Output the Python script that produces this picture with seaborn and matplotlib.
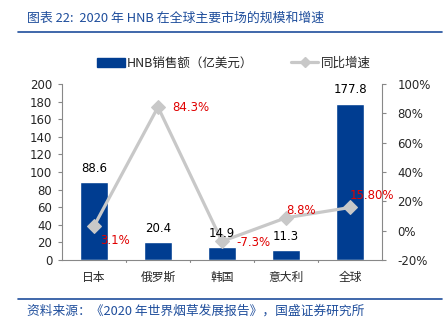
import matplotlib
matplotlib.use("Agg")
import matplotlib.pyplot as plt
import seaborn as sns
import pandas as pd
from matplotlib.patches import Patch
from matplotlib.lines import Line2D
from matplotlib.ticker import FuncFormatter, MultipleLocator

sns.set_style("white")
plt.rcParams['font.family'] = ['DejaVu Sans', 'Noto Sans CJK SC']

categories = ["日本", "俄罗斯", "韩国", "意大利", "全球"]
sales = [88.6, 20.4, 14.9, 11.3, 177.8]
growth = [3.1, 84.3, -7.3, 8.8, 15.8]
growth_labels = ["3.1%", "84.3%", "-7.3%", "8.8%", "15.80%"]
title = "图表 22:  2020 年 HNB 在全球主要市场的规模和增速"
source = "资料来源：《2020 年世界烟草发展报告》，国盛证券研究所"
legend_labels = ["HNB销售额（亿美元）", "同比增速"]

BLUE = "#003d91"
GRAY = "#c8c8c8"
RED = "#e00000"
TITLE_BLUE = "#1f4e9c"
cjk = ['Noto Sans CJK SC', 'DejaVu Sans']

W, H = 448, 330
fig = plt.figure(figsize=(W / 100, H / 100), dpi=100)
ax = fig.add_axes([62 / W, (H - 260) / H, 320 / W, 176 / H])

df = pd.DataFrame({"cat": categories, "sales": sales, "growth": growth})
sns.barplot(data=df, x="cat", y="sales", ax=ax, color=BLUE, width=0.44,
            saturation=1)
ax.set_ylim(0, 200)
ax.set_xlim(-0.5, 4.5)
ax.yaxis.set_major_locator(MultipleLocator(20))
ax.set_xlabel("")
ax.set_ylabel("")

ax2 = ax.twinx()
sns.lineplot(x=list(range(len(categories))), y=growth, ax=ax2, color=GRAY,
             linewidth=2.3, marker="D", markersize=7.5, markeredgecolor=GRAY,
             markerfacecolor=GRAY)
ax2.set_ylim(-20, 100)
ax2.yaxis.set_major_locator(MultipleLocator(20))
ax2.yaxis.set_major_formatter(FuncFormatter(lambda v, p: f"{v:.0f}%"))
ax2.set_xlim(-0.5, 4.5)

for i, v in enumerate(sales):
    ax2.text(i, v + 8, f"{v:.1f}", ha="center", va="bottom", fontsize=8.5,
             color="black", transform=ax.transData, zorder=10)

offsets = [(0.1, -10), (0.23, 0), (0.23, -1), (0.0, 5), (0.0, 8)]
for i, (g, lab) in enumerate(zip(growth, growth_labels)):
    dx, dy = offsets[i]
    ax2.text(i + dx, g + dy, lab, ha="left", va="center", fontsize=8.5,
             color=RED, zorder=10)

for a in (ax, ax2):
    for s in a.spines.values():
        s.set_color("#888888")
        s.set_linewidth(0.8)
    a.spines["top"].set_visible(False)
ax.spines["right"].set_visible(False)
ax2.spines["left"].set_visible(False)
ax2.spines["bottom"].set_visible(False)

ax.tick_params(axis="y", length=3, color="#888888", labelsize=8.5, pad=4)
ax2.tick_params(axis="y", length=3, color="#888888", labelsize=8.5, pad=8)
ax.set_xticks([0, 1, 2, 3, 4])
ax.set_xticklabels(categories, fontfamily=cjk, fontsize=8.5)
ax.tick_params(axis="x", length=0, pad=8)
for b in [0.5, 1.5, 2.5, 3.5]:
    ax.plot([b, b], [0, -2], color="#888888", lw=0.8, clip_on=False)

handles = [Patch(facecolor=BLUE, edgecolor=BLUE),
           Line2D([0], [0], color=GRAY, lw=2.3, marker="D", markersize=5)]
leg = fig.legend(handles, legend_labels, loc="center", ncol=2,
                 bbox_to_anchor=(234 / W, 1 - 63 / H), frameon=False,
                 prop={"family": cjk, "size": 9}, handlelength=2.2,
                 columnspacing=3.0, handletextpad=0.2)

fig.text(27 / W, 1 - 18 / H, title, fontsize=9.3, style="italic",
         color=TITLE_BLUE, fontfamily=cjk, va="center", ha="left")
fig.add_artist(Line2D([18 / W, 442 / W], [1 - 32 / H, 1 - 32 / H],
                      color=TITLE_BLUE, lw=1.2))
fig.add_artist(Line2D([18 / W, 442 / W], [1 - 299 / H, 1 - 299 / H],
                      color=TITLE_BLUE, lw=1.2))
fig.text(27 / W, 1 - 311 / H, source, fontsize=9.2, style="italic",
         color=TITLE_BLUE, fontfamily=cjk, va="center", ha="left")

fig.savefig("out.png", dpi=100)
